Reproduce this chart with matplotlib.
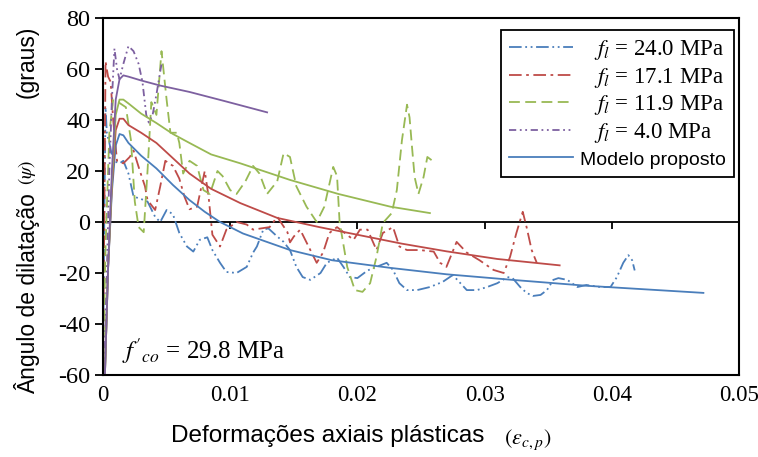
import matplotlib.pyplot as plt

plt.rcParams['axes.unicode_minus'] = False
plt.rcParams['mathtext.fontset'] = 'stix'

# experimental curves
x_24 = [0, 0.0001, 0.0002, 0.0003, 0.0005, 0.0008, 0.0013, 0.0016, 0.002, 0.0024, 0.003, 0.0035,
        0.0041, 0.0045, 0.005, 0.0055, 0.006, 0.0066, 0.0071, 0.0076, 0.0082, 0.0086, 0.0092, 0.0097,
        0.0105, 0.0113, 0.0118, 0.0121, 0.0126, 0.013, 0.0137, 0.0142, 0.0147, 0.0152, 0.0157, 0.0163,
        0.0171, 0.0176, 0.0184, 0.0189, 0.0194, 0.02, 0.0208, 0.0215, 0.0223, 0.0228, 0.0233, 0.0239,
        0.0247, 0.0257, 0.0267, 0.0275, 0.0281, 0.0286, 0.0294, 0.0302, 0.031, 0.0318, 0.0322, 0.0328,
        0.0333, 0.0338, 0.0344, 0.0349, 0.0354, 0.0358, 0.0365, 0.0373, 0.038, 0.0391, 0.0399, 0.0404,
        0.0409, 0.0413, 0.0416, 0.0418]
y_24 = [-58, 0, 45, 35, 31, 24, 23, 24, 19, 10, 9, 8, 2, 0, 4.7, 3, -4.3, -9.6, -11.6, -7, -6, -11,
        -16, -19.6, -20, -17.6, -12, -9.6, -3, -2.5, -5.7, -7.8, -11, -17.6, -21.6, -22.7, -20, -16,
        -14, -17.6, -21.6, -22, -19, -17.6, -16, -18.8, -24, -26.7, -26.7, -25.5, -23.5, -20.8, -24,
        -26.7, -26.7, -25.5, -24, -21.6, -22, -25.5, -27.8, -29, -28.6, -26.7, -22.7, -22, -22.7, -25.5,
        -24.7, -25.5, -25.5, -21.6, -16, -13, -15, -19]

x_17 = [0, 0.0001, 0.0002, 0.0004, 0.0006, 0.0008, 0.0011, 0.0016, 0.0021, 0.0024, 0.0029, 0.0033,
        0.0035, 0.0041, 0.0045, 0.0049, 0.0055, 0.006, 0.0064, 0.0068, 0.0074, 0.008, 0.0083, 0.0086,
        0.0092, 0.0097, 0.0105, 0.0113, 0.0118, 0.0131, 0.0137, 0.0145, 0.0147, 0.015, 0.0155, 0.016,
        0.0168, 0.0173, 0.0178, 0.0184, 0.0197, 0.0202, 0.0208, 0.0215, 0.022, 0.0228, 0.0233, 0.0239,
        0.0249, 0.026, 0.0265, 0.027, 0.0278, 0.0286, 0.0296, 0.0307, 0.0315, 0.032, 0.0325, 0.033,
        0.0333, 0.0337, 0.0341]
y_17 = [-58, 0, 63, 57, 55, 40, 24, 23, 25.5, 28, 20, 14, 8.6, 4.7, 14, 24, 22, 17, 10, 5, 6, 20, 10,
        -5, -9.6, -3, 0, -1, -3, -2, 2, -4, -8, -5.7, -3, -8, -16, -12, -4.3, -2, -7, -3, -3, -11, -4.3,
        -2, -9.6, -11, -11, -11.6, -16, -17.6, -7.8, -12, -15, -18.8, -20, -13.7, -4.3, 4, -2, -11, -16]

x_12 = [0, 0.0002, 0.0005, 0.0008, 0.0012, 0.0018, 0.0022, 0.0025, 0.0028, 0.0032, 0.0035, 0.0038,
        0.0042, 0.0046, 0.005, 0.0053, 0.0058, 0.006, 0.0063, 0.0068, 0.0074, 0.0079, 0.0084, 0.009,
        0.0094, 0.01, 0.0105, 0.0112, 0.0118, 0.0123, 0.0129, 0.0137, 0.0142, 0.0147, 0.0152, 0.016,
        0.0168, 0.0174, 0.0181, 0.0184, 0.0186, 0.0192, 0.0198, 0.0204, 0.021, 0.0215, 0.022, 0.0227,
        0.0231, 0.0235, 0.0239, 0.0241, 0.0243, 0.0245, 0.0248, 0.0252, 0.0255, 0.0259]
y_12 = [-58, -10, 35, 48, 47, 45, 32, 8, -2, -4, 20, 47, 42, 67, 48, 35, 35, 31, 19, 24, 22, 12.5, 11,
        20, 18, 12.5, 11, 16, 22, 19, 11, 16, 27, 25.5, 14, 6, 0, 6, 21.6, 18, 0, -17.6, -26.7, -27.4,
        -24, -13.7, -0.4, 3.5, 12.5, 32, 46, 41, 29, 17.6, 11, 17.6, 25.5, 24]

x_4 = [0.0001, 0.0003, 0.0005, 0.0007, 0.0009, 0.0011, 0.0013, 0.0016, 0.002, 0.0024, 0.0028, 0.0031,
       0.0034, 0.0036, 0.0039, 0.0042, 0.0046]
y_4 = [-58, -20, 20, 48, 68, 60, 56, 62, 69, 67, 62, 55, 42, 39, 42, 50, 62]

# model curves
xm_24 = [0.00015, 0.0004, 0.0007, 0.001, 0.0013, 0.0016, 0.002, 0.003, 0.0042, 0.0055, 0.0068, 0.008,
         0.0092, 0.011, 0.0147, 0.018, 0.0226, 0.027, 0.0322, 0.038, 0.0472]
ym_24 = [-60, -18, 12, 30, 34.5, 34, 31, 26, 21, 14.5, 8.6, 4, 0, -4.5, -11, -15, -18, -20.5, -22.7,
         -25, -27.8]

xm_17 = [0.00015, 0.0004, 0.0007, 0.001, 0.0013, 0.0016, 0.002, 0.003, 0.0042, 0.0055, 0.0068, 0.0085,
         0.0108, 0.0137, 0.017, 0.02, 0.0235, 0.027, 0.031, 0.0359]
ym_17 = [-60, -18, 14, 36, 40.5, 40.5, 38, 35, 31, 25, 19, 13, 7.4, 1.6, -2, -5, -8.5, -11.5, -14.5, -17]

xm_12 = [0.00015, 0.0004, 0.0007, 0.001, 0.0013, 0.0016, 0.002, 0.003, 0.0042, 0.0055, 0.0068, 0.0085,
         0.0108, 0.0147, 0.0185, 0.0226, 0.0257]
ym_12 = [-60, -18, 16, 42, 48, 48, 46.5, 42.5, 38.8, 34.5, 31, 26.5, 23, 16.5, 11, 6, 3.5]

xm_4 = [0.00015, 0.0004, 0.0007, 0.001, 0.0013, 0.0016, 0.002, 0.003, 0.0045, 0.0068, 0.0095, 0.0129]
ym_4 = [-60, -18, 20, 48, 56, 57.5, 57, 55.5, 53.5, 51, 47.5, 43]

labels = ['   $f_l$ = 24.0 MPa', '   $f_l$ = 17.1 MPa', '   $f_l$ = 11.9 MPa', '   $f_l$ = 4.0 MPa']
colors = ['#4a7ebb', '#be4b48', '#98b954', '#7d60a0']
x_ticks = [0, 0.01, 0.02, 0.03, 0.04, 0.05]
x_ticklabels = ['0', '0.01', '0.02', '0.03', '0.04', '0.05']
y_ticks = [-60, -40, -20, 0, 20, 40, 60, 80]

serif = 'Liberation Serif'
sans = 'Liberation Sans'

fig = plt.figure(figsize=(7.58, 4.57), dpi=100)
ax = fig.add_axes([103 / 758, 82 / 457, 636 / 758, 357 / 457])

styles = [(0, (7, 2, 1, 2, 1, 2)), (0, (7, 2.5, 1.5, 2.5)), (0, (6, 3)), (0, (4, 2, 1, 2, 1, 2))]
exp = [(x_24, y_24), (x_17, y_17), (x_12, y_12), (x_4, y_4)]
mod = [(xm_24, ym_24), (xm_17, ym_17), (xm_12, ym_12), (xm_4, ym_4)]

handles = []
for (xe, ye), c, ls, lab in zip(exp, colors, styles, labels):
    h, = ax.plot(xe, ye, color=c, ls=ls, lw=1.3, label=lab)
    handles.append(h)
for i, ((xm, ym), c) in enumerate(zip(mod, colors)):
    h, = ax.plot(xm, ym, color=c, lw=1.3, label='Modelo proposto')
    if i == 0:
        handles.append(h)

ax.set_xlim(0, 0.05)
ax.set_ylim(-60, 80)
ax.set_xticks(x_ticks)
ax.set_xticklabels(x_ticklabels)
ax.set_yticks(y_ticks)
ax.tick_params(axis='x', length=0, pad=7)
ax.tick_params(axis='y', direction='out', length=6, width=1.3, pad=3)
for lab in ax.get_xticklabels():
    lab.set_family(serif)
    lab.set_fontsize(16.5)
for lab in ax.get_yticklabels():
    lab.set_family(serif)
    lab.set_fontsize(17.5)
for s in ax.spines.values():
    s.set_linewidth(1.5)

# zero line with ticks
sec = ax.secondary_xaxis(0, transform=ax.transData)
sec.set_xticks([0.01, 0.02, 0.03, 0.04])
sec.tick_params(axis='x', direction='out', length=5, width=1.3, labelbottom=False)
sec.spines['bottom'].set_linewidth(1.3)

leg = ax.legend(handles=handles, loc='upper right', bbox_to_anchor=(0.992, 0.966), borderaxespad=0,
                fancybox=False, edgecolor='black', framealpha=1, handlelength=2.8, handletextpad=0.3,
                labelspacing=0.16, borderpad=0.35, prop={'family': serif, 'size': 16.5})
leg.get_frame().set_linewidth(1.3)
leg.get_texts()[4].set_family(sans)
leg.get_texts()[4].set_fontsize(14)

ax.text(0.03, 0.025, "$f'_{co}$ = 29.8 MPa", transform=ax.transAxes, family=serif, fontsize=18,
        ha='left', va='bottom')

# axis labels
ax.text(0.354, -0.172, 'Deformações axiais plásticas', transform=ax.transAxes, family=sans,
        fontsize=17.5, ha='center', va='center')
ax.text(0.668, -0.180, r'$(\varepsilon_{c,p})$', transform=ax.transAxes, fontsize=16,
        ha='center', va='center')
ax.text(-0.1195, 0.227, 'Ângulo de dilatação', transform=ax.transAxes, family=sans, fontsize=16.5,
        rotation=90, ha='center', va='center')
ax.text(-0.1195, 0.569, r'$(\psi)$', transform=ax.transAxes, fontsize=14,
        rotation=90, ha='center', va='center')
ax.text(-0.1195, 0.877, '(graus)', transform=ax.transAxes, family=sans, fontsize=16.5,
        rotation=90, ha='center', va='center')

plt.savefig('out.png', dpi=100)
